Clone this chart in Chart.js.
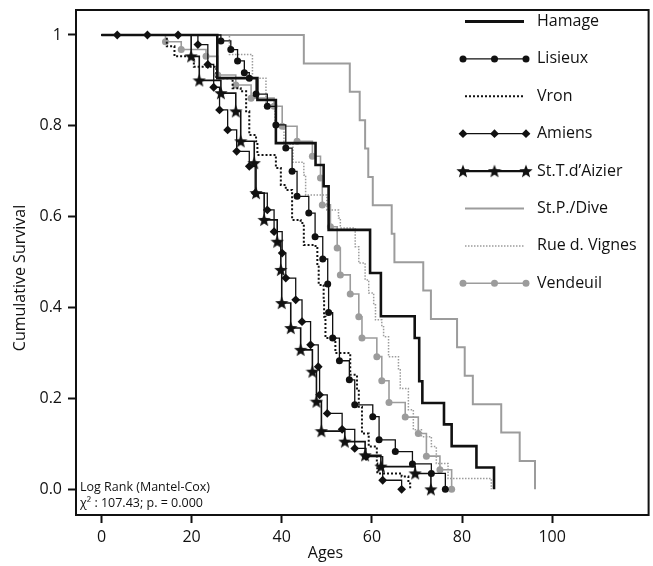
<!DOCTYPE html>
<html>
<head>
<meta charset="utf-8">
<script src="https://cdn.jsdelivr.net/npm/chart.js@4.4.0/dist/chart.umd.min.js"></script>
<style>
html,body{margin:0;padding:0;background:#fff}
#c{display:block}
</style>
</head>
<body>
<canvas id="c" width="653" height="566"></canvas>
<script>
// ── Kaplan-Meier survival by site ──
const xTicks = [0, 20, 40, 60, 80, 100];
const yTicks = [0, 0.2, 0.4, 0.6, 0.8, 1];
const siteNames = ['Hamage', 'Lisieux', 'Vron', 'Amiens', 'St.T.d\u2019Aizier', 'St.P./Dive', 'Rue d. Vignes', 'Vendeuil'];

const hamageAge  = [0, 25.7, 34.6, 38.7, 47.5, 49.3, 50.4, 59.6, 62.0, 69.5, 70.5, 71.2, 76.0, 77.7, 83.2, 87.1];
const hamageSurv = [1, 0.905, 0.857, 0.762, 0.714, 0.667, 0.571, 0.476, 0.381, 0.333, 0.238, 0.190, 0.143, 0.095, 0.048, 0];

const lisieuxAge  = [0, 26.5, 28.7, 30.2, 31.7, 32.8, 34.3, 36.8, 38.7, 40.9, 42.3, 43.4, 46.0, 47.4, 49.1, 50.2, 50.4, 51.3, 52.8, 55.0, 56.2, 60.2, 61.6, 65.2, 69.0, 73.2, 76.3];
const lisieuxSurv = [1, 0.987, 0.968, 0.943, 0.917, 0.905, 0.87, 0.843, 0.802, 0.751, 0.70, 0.645, 0.608, 0.556, 0.507, 0.452, 0.389, 0.333, 0.283, 0.241, 0.186, 0.16, 0.109, 0.083, 0.056, 0.035, 0];

const vronAge  = [0, 14.5, 16.2, 20.5, 25.5, 29.1, 30.9, 32.1, 32.8, 34.3, 34.6, 38.7, 39.8, 40.9, 42.3, 44.2, 44.9, 47.5, 47.9, 48.2, 49.3, 49.4, 49.7, 51.9, 55.2, 56.7, 57.1, 57.8, 59.3, 61.1, 61.2, 66.6, 68.1, 68.5];
const vronSurv = [1, 0.975, 0.953, 0.93, 0.905, 0.883, 0.876, 0.832, 0.78, 0.766, 0.736, 0.707, 0.67, 0.659, 0.593, 0.586, 0.538, 0.531, 0.49, 0.45, 0.417, 0.38, 0.333, 0.3, 0.252, 0.222, 0.182, 0.123, 0.094, 0.057, 0.035, 0.028, 0.013, 0];

const amiensAge  = [0, 3.5, 10.2, 17.0, 21.4, 23.6, 24.9, 26.2, 28.0, 30.0, 32.8, 34.1, 36.8, 38.3, 40.1, 40.9, 43.1, 44.5, 46.4, 48.1, 48.4, 50.1, 53.4, 56.2, 58.7, 62.4, 66.6];
const amiensSurv = [1, 1, 1, 1, 0.979, 0.935, 0.885, 0.835, 0.791, 0.744, 0.711, 0.652, 0.615, 0.567, 0.52, 0.465, 0.417, 0.369, 0.318, 0.27, 0.208, 0.167, 0.132, 0.09, 0.072, 0.02, 0];

const aizierAge  = [0, 19.9, 21.7, 26.5, 29.8, 30.9, 33.9, 34.3, 36.1, 39.0, 39.8, 40.0, 42.0, 44.2, 46.8, 47.7, 48.8, 54.0, 58.5, 62.0, 69.6, 73.1];
const aizierSurv = [1, 0.953, 0.9, 0.872, 0.832, 0.766, 0.718, 0.652, 0.593, 0.545, 0.483, 0.41, 0.355, 0.307, 0.259, 0.193, 0.128, 0.105, 0.075, 0.05, 0.035, 0];

const diveAge  = [0, 44.9, 55.1, 57.3, 58.5, 59.2, 60.2, 64.4, 65.0, 71.4, 73.1, 78.9, 80.6, 82.4, 88.7, 92.8, 96.2];
const diveSurv = [1, 0.9375, 0.875, 0.8125, 0.75, 0.6875, 0.625, 0.5625, 0.5, 0.4375, 0.375, 0.3125, 0.25, 0.1875, 0.125, 0.0625, 0];

const vignesAge  = [0, 28.4, 33.5, 36.5, 38.5, 40.5, 42.5, 44.9, 45.3, 50.0, 52.6, 53.0, 56.3, 57.1, 58.5, 59.3, 60.4, 60.8, 62.2, 62.6, 63.7, 65.9, 66.3, 68.1, 69.2, 71.0, 73.2, 74.3, 76.9, 86.5];
const vignesSurv = [1, 0.957, 0.905, 0.846, 0.8, 0.76, 0.72, 0.692, 0.648, 0.615, 0.597, 0.575, 0.534, 0.498, 0.461, 0.432, 0.406, 0.373, 0.358, 0.336, 0.292, 0.263, 0.222, 0.175, 0.131, 0.116, 0.094, 0.057, 0.024, 0];

const vendeuilAge  = [0, 14.2, 17.7, 23.2, 25.8, 29.8, 33.2, 38.3, 40.1, 43.4, 46.8, 48.6, 49.0, 50.8, 52.3, 53.0, 55.2, 57.1, 57.8, 61.1, 62.2, 63.8, 67.4, 70.3, 72.1, 75.1, 77.7];
const vendeuilSurv = [1, 0.985, 0.968, 0.953, 0.912, 0.89, 0.861, 0.843, 0.799, 0.766, 0.733, 0.685, 0.626, 0.578, 0.531, 0.472, 0.43, 0.38, 0.333, 0.292, 0.239, 0.191, 0.159, 0.123, 0.073, 0.043, 0];

// ── styling ───────────────────────────────
const FONT = "'Open Sans', 'DejaVu Sans', sans-serif";
const BLACK = '#111';
const GRAY = '#9c9c9c';

function makeStar(size, color) {
  const c = document.createElement('canvas');
  c.width = size; c.height = size;
  const g = c.getContext('2d');
  const cx = size / 2, cy = size / 2 + 0.5, R = size / 2, r = R * 0.42;
  g.beginPath();
  for (let i = 0; i < 10; i++) {
    const a = -Math.PI / 2 + i * Math.PI / 5;
    const rad = i % 2 ? r : R;
    g.lineTo(cx + rad * Math.cos(a), cy + rad * Math.sin(a));
  }
  g.closePath();
  g.fillStyle = color;
  g.fill();
  return c;
}
const starImg = makeStar(14, BLACK);

function pts(ages, surv) { return ages.map((a, i) => ({ x: a, y: surv[i] })); }
function skipFirst(r) { return ctx => (ctx.dataIndex === 0 ? 0 : r); }

// black series first so they land on top of the grey ones
const series = [
  { label: siteNames[0], data: pts(hamageAge, hamageSurv), color: BLACK, width: 2.6, dash: [], marker: null },
  { label: siteNames[4], data: pts(aizierAge, aizierSurv), color: BLACK, width: 1.6, dash: [], marker: 'star' },
  { label: siteNames[1], data: pts(lisieuxAge, lisieuxSurv), color: BLACK, width: 1.3, dash: [], marker: 'circle' },
  { label: siteNames[3], data: pts(amiensAge, amiensSurv), color: BLACK, width: 1.3, dash: [], marker: 'rectRot' },
  { label: siteNames[2], data: pts(vronAge, vronSurv), color: BLACK, width: 2, dash: [2, 2], marker: null },
  { label: siteNames[7], data: pts(vendeuilAge, vendeuilSurv), color: GRAY, width: 1.6, dash: [], marker: 'circle' },
  { label: siteNames[6], data: pts(vignesAge, vignesSurv), color: GRAY, width: 1.5, dash: [1.5, 1.5], marker: null },
  { label: siteNames[5], data: pts(diveAge, diveSurv), color: GRAY, width: 2, dash: [], marker: null }
];

const datasets = series.map(s => ({
  label: s.label,
  data: s.data,
  stepped: 'before',
  borderColor: s.color,
  backgroundColor: s.color,
  borderWidth: s.width,
  borderDash: s.dash,
  fill: false,
  pointStyle: s.marker === 'star' ? starImg : (s.marker || 'circle'),
  pointRadius: s.marker ? skipFirst(s.marker === 'rectRot' ? 4.4 : 3.5) : 0,
  pointBorderWidth: 0,
  pointBackgroundColor: s.color,
  pointBorderColor: s.color
}));

// ── legend + box + axis titles + log-rank note ──────────────
function legendMarker(ctx, kind, x, y, color) {
  ctx.fillStyle = color;
  if (kind === 'circle') {
    ctx.beginPath(); ctx.arc(x, y, 3.5, 0, Math.PI * 2); ctx.fill();
  } else if (kind === 'rectRot') {
    ctx.beginPath();
    ctx.moveTo(x, y - 4.4); ctx.lineTo(x + 4.4, y); ctx.lineTo(x, y + 4.4); ctx.lineTo(x - 4.4, y);
    ctx.closePath(); ctx.fill();
  } else if (kind === 'star') {
    ctx.drawImage(starImg, x - starImg.width / 2, y - starImg.height / 2);
  }
}

const legendOrder = [0, 2, 4, 3, 1, 7, 6, 5]; // indices into series, in legend order

const decorPlugin = {
  id: 'decor',
  afterDraw(chart) {
    const { ctx, chartArea: { left, right, top, bottom } } = chart;
    ctx.save();
    ctx.strokeStyle = BLACK;
    ctx.lineWidth = 2;
    ctx.setLineDash([]);
    ctx.strokeRect(left, top, right - left, bottom - top);

    const x0 = 463, x1 = 526, tx = 537, y0 = 21.5, dy = 37.4;
    ctx.font = '16px ' + FONT;
    ctx.textBaseline = 'middle';
    ctx.textAlign = 'left';
    legendOrder.forEach((si, k) => {
      const s = series[si];
      const y = y0 + k * dy;
      ctx.strokeStyle = s.color;
      ctx.lineWidth = si === 0 ? 3 : (s.marker === 'star' ? 2.4 : s.width);
      ctx.setLineDash(s.dash);
      ctx.beginPath();
      ctx.moveTo(s.marker ? x0 : x0 + 2, y);
      ctx.lineTo(s.marker ? x1 : x1 - 2, y);
      ctx.stroke();
      ctx.setLineDash([]);
      if (s.marker) [x0, (x0 + x1) / 2, x1].forEach(mx => legendMarker(ctx, s.marker, mx, y, s.color));
      ctx.fillStyle = BLACK;
      ctx.fillText(s.label, tx, y);
    });

    // axis titles (the y title sits a little below the plot centre in the original)
    ctx.textAlign = 'center';
    ctx.fillText('Ages', 325.5, 553);
    ctx.save();
    ctx.translate(20, 278);
    ctx.rotate(-Math.PI / 2);
    ctx.fillText('Cumulative Survival', 0, 0);
    ctx.restore();

    ctx.textAlign = 'left';
    ctx.font = '12.5px ' + FONT;
    ctx.fillText('Log Rank (Mantel-Cox)', 80, 487);
    ctx.fillText('\u03C7\u00B2 : 107.43; p. = 0.000', 80, 503);
    ctx.restore();
  }
};

new Chart(document.getElementById('c'), {
  type: 'line',
  data: { datasets },
  plugins: [decorPlugin],
  options: {
    responsive: false,
    animation: false,
    devicePixelRatio: 1,
    layout: { padding: { top: 10, right: 2, left: 0, bottom: 0 } },
    plugins: { legend: { display: false }, tooltip: { enabled: false } },
    scales: {
      x: {
        type: 'linear',
        min: -5.65,
        max: 121.4,
        afterBuildTicks: s => { s.ticks = xTicks.map(v => ({ value: v })); },
        afterFit: s => { s.height = 51; s.paddingLeft = 0; s.paddingRight = 0; },
        border: { display: false },
        grid: { drawOnChartArea: false, drawTicks: true, tickLength: 8, tickColor: BLACK, tickWidth: 2 },
        ticks: { color: BLACK, font: { family: FONT, size: 16 }, padding: 5 }
      },
      y: {
        type: 'linear',
        min: -0.0565,
        max: 1.055,
        afterBuildTicks: s => { s.ticks = yTicks.map(v => ({ value: v })); },
        afterFit: s => { s.width = 76; s.paddingTop = 0; s.paddingBottom = 0; },
        border: { display: false },
        grid: { drawOnChartArea: false, drawTicks: true, tickLength: 8, tickColor: BLACK, tickWidth: 2 },
        ticks: { color: BLACK, font: { family: FONT, size: 16 }, padding: 6,
                 callback: v => (v === 1 ? '1' : v.toFixed(1)) }
      }
    }
  }
});
</script>
</body>
</html>
